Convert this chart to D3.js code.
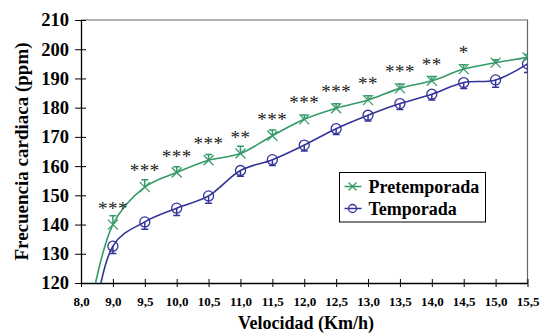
<!DOCTYPE html>
<html>
<head>
<meta charset="utf-8">
<script src="https://cdn.jsdelivr.net/npm/d3@7"></script>
<style>
  body { margin: 0; background: #fff; }
  svg { display: block; font-family: "Liberation Serif", "Times New Roman", serif; font-weight: bold; }
</style>
</head>
<body>
<svg id="chart" width="544" height="333"></svg>
<script>
// velocidades (categorias del eje x)
const velocidades = ['8,0', '9,0', '9,5', '10,0', '10,5', '11,0', '11,5', '12,0', '12,5', '13,0', '13,5', '14,0', '14,5', '15,0', '15,5'];
const pretemporada = [94, 140.0, 152.8, 157.8, 162.0, 164.3, 170.4, 176.0, 179.8, 182.6, 186.6, 189.2, 193.2, 195.4, 197.2];
const pretemporadaErr = [0, 3, 2.5, 2, 2, 2.5, 2, 1.5, 1.5, 1.5, 1.5, 1.5, 1.5, 1, 1];
const temporada = [70, 132.6, 140.9, 145.6, 149.8, 158.5, 162.2, 167.2, 172.8, 177.4, 181.4, 184.6, 188.6, 189.5, 195.0];
const temporadaErr = [0, 2.5, 2.5, 2.5, 2.5, 2, 2, 2, 2, 2, 2, 2, 2, 2.5, 3];
const significancia = ['', '***', '***', '***', '***', '**', '***', '***', '***', '**', '***', '**', '*', '', ''];
const yTicks = [120, 130, 140, 150, 160, 170, 180, 190, 200, 210];

const width = 544, height = 333;
const margin = { top: 20, right: 16.5, bottom: 50, left: 81 };
const green = '#339966', blue = '#333399';

const svg = d3.select('#chart');

const x = d3.scalePoint()
  .domain(velocidades)
  .range([margin.left, width - margin.right]);

const y = d3.scaleLinear()
  .domain([120, 210])
  .range([height - margin.bottom, margin.top]);

svg.append('defs').append('clipPath').attr('id', 'plot')
  .append('rect')
  .attr('x', margin.left)
  .attr('y', margin.top)
  .attr('width', width - margin.left - margin.right)
  .attr('height', height - margin.top - margin.bottom);

// marco superior y derecho
svg.append('path')
  .attr('d', `M${margin.left},${margin.top}H${width - margin.right}V${height - margin.bottom}`)
  .attr('fill', 'none')
  .attr('stroke', '#666')
  .attr('stroke-width', 1.2);

// eje y
const yAxis = svg.append('g')
  .attr('transform', `translate(${margin.left},0)`)
  .call(d3.axisLeft(y).tickValues(yTicks).tickSize(6).tickPadding(6).tickSizeOuter(0));
yAxis.selectAll('.tick line').attr('x2', -6).clone().attr('x2', 5);
yAxis.selectAll('.tick text')
  .style('font-family', '"Liberation Serif", serif')
  .style('font-weight', 'bold')
  .style('font-size', '18.5px')
  .attr('fill', '#000');
yAxis.select('.domain').attr('stroke-width', 1.3);

// eje x
const xAxis = svg.append('g')
  .attr('transform', `translate(0,${height - margin.bottom})`)
  .call(d3.axisBottom(x).tickSize(4).tickPadding(10).tickSizeOuter(0));
xAxis.selectAll('.tick line').clone().attr('y2', -4);
xAxis.selectAll('.tick text')
  .style('font-family', '"Liberation Serif", serif')
  .style('font-weight', 'bold')
  .style('font-size', '13px')
  .attr('fill', '#000');
xAxis.select('.domain').attr('stroke-width', 1.3);

// titulos
svg.append('text')
  .attr('x', 306)
  .attr('y', 329)
  .attr('text-anchor', 'middle')
  .style('font-size', '18px')
  .text('Velocidad (Km/h)');

svg.append('text')
  .attr('transform', `translate(28,${(margin.top + height - margin.bottom) / 2}) rotate(-90)`)
  .attr('text-anchor', 'middle')
  .style('font-size', '19px')
  .text('Frecuencia cardiaca (ppm)');

const plot = svg.append('g').attr('clip-path', 'url(#plot)');

const line = d3.line()
  .x((d, i) => x(velocidades[i]))
  .y(d => y(d))
  .curve(d3.curveCatmullRom.alpha(0.5));

function drawSeries(values, errs, color, dir, marker) {
  plot.append('path')
    .datum(values)
    .attr('d', line)
    .attr('fill', 'none')
    .attr('stroke', color)
    .attr('stroke-width', 1.6);

  const g = plot.append('g');
  values.forEach((v, i) => {
    if (i === 0) return;
    const cx = x(velocidades[i]), cy = y(v);
    const ey = y(v + dir * errs[i]);
    g.append('line')
      .attr('x1', cx).attr('x2', cx).attr('y1', cy).attr('y2', ey)
      .attr('stroke', color).attr('stroke-width', 1.5);
    g.append('line')
      .attr('x1', cx - 3.5).attr('x2', cx + 3.5).attr('y1', ey).attr('y2', ey)
      .attr('stroke', color).attr('stroke-width', 1.5);
    marker(g, cx, cy);
  });
}

function cross(g, cx, cy) {
  g.append('path')
    .attr('d', `M${cx - 5},${cy - 5}L${cx + 5},${cy + 5}M${cx - 5},${cy + 5}L${cx + 5},${cy - 5}`)
    .attr('stroke', green).attr('stroke-width', 1.2).attr('fill', 'none');
}

function circle(g, cx, cy) {
  g.append('circle')
    .attr('cx', cx).attr('cy', cy).attr('r', 5)
    .attr('fill', 'none').attr('stroke', blue).attr('stroke-width', 1.3);
}

drawSeries(temporada, temporadaErr, blue, -1, circle);
drawSeries(pretemporada, pretemporadaErr, green, 1, cross);

// asteriscos de significacion
svg.append('g')
  .selectAll('text')
  .data(significancia)
  .join('text')
  .attr('x', (d, i) => x(velocidades[i]))
  .attr('y', (d, i) => y(pretemporada[i]) - 22 + 12)
  .attr('text-anchor', 'middle')
  .attr('fill', '#222')
  .style('font-size', '19px')
  .style('font-weight', 'normal')
  .style('letter-spacing', '0.5px')
  .text(d => d);

// leyenda
const legend = svg.append('g').attr('transform', 'translate(339.5,172.5)');
legend.append('rect')
  .attr('width', 146).attr('height', 49.5)
  .attr('fill', '#fff').attr('stroke', '#000').attr('stroke-width', 1);

const items = [
  { name: 'Pretemporada', color: green, marker: 'cross' },
  { name: 'Temporada', color: blue, marker: 'circle' }
];
items.forEach((it, i) => {
  const yy = 14 + i * 22;
  legend.append('line')
    .attr('x1', 5).attr('x2', 22).attr('y1', yy).attr('y2', yy)
    .attr('stroke', it.color).attr('stroke-width', 1.5);
  if (it.marker === 'cross') {
    legend.append('path')
      .attr('d', `M${9},${yy - 4}L${17},${yy + 4}M${9},${yy + 4}L${17},${yy - 4}`)
      .attr('stroke', it.color).attr('stroke-width', 1.2);
  } else {
    legend.append('circle')
      .attr('cx', 13).attr('cy', yy).attr('r', 4)
      .attr('fill', 'none').attr('stroke', it.color).attr('stroke-width', 1.3);
  }
  legend.append('text')
    .attr('x', 29).attr('y', yy + 6)
    .style('font-size', '18px')
    .text(it.name);
});
</script>
</body>
</html>
